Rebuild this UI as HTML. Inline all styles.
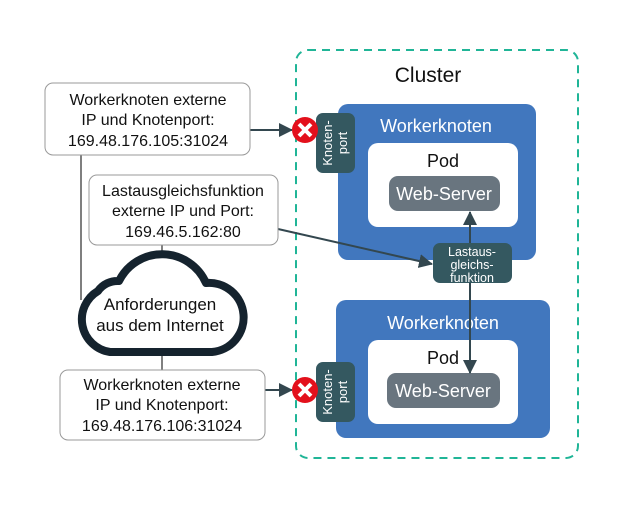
<!DOCTYPE html>
<html><head><style>
body{margin:0;background:#fff;width:640px;height:500px;overflow:hidden}
text{font-family:"Liberation Sans",sans-serif}
</style></head><body>
<svg width="640" height="500" viewBox="0 0 640 500">
<defs>
<marker id="b" markerWidth="14" markerHeight="14" refX="13" refY="7" orient="auto" markerUnits="userSpaceOnUse"><path d="M0,0 L14,7 L0,14z" fill="#33474f"/></marker></defs>
<rect x="296" y="50" width="282" height="408" rx="12" fill="none" stroke="#20b597" stroke-width="2" stroke-dasharray="8,6"/>
<text x="428" y="82" font-size="21" text-anchor="middle" fill="#111">Cluster</text>
<!-- worker 1 -->
<rect x="338" y="104" width="198" height="156" rx="10" fill="#4177be"/>
<text x="436" y="132" font-size="18" text-anchor="middle" fill="#fff">Workerknoten</text>
<rect x="368" y="143" width="150" height="84" rx="10" fill="#fff"/>
<text x="443" y="167" font-size="18" text-anchor="middle" fill="#111">Pod</text>
<rect x="389" y="176" width="111" height="35" rx="9" fill="#69757f"/>
<text x="444" y="200" font-size="18" text-anchor="middle" fill="#fff">Web-Server</text>
<!-- worker 2 -->
<rect x="336" y="300" width="214" height="138" rx="10" fill="#4177be"/>
<text x="443" y="329" font-size="18" text-anchor="middle" fill="#fff">Workerknoten</text>
<rect x="368" y="340" width="150" height="84" rx="10" fill="#fff"/>
<text x="443" y="364" font-size="18" text-anchor="middle" fill="#111">Pod</text>
<rect x="387" y="373" width="113" height="35" rx="9" fill="#69757f"/>
<text x="443" y="397" font-size="18" text-anchor="middle" fill="#fff">Web-Server</text>
<!-- knotenports -->
<rect x="316" y="113" width="39" height="60" rx="7" fill="#345860"/>
<text transform="translate(332,143) rotate(-90)" font-size="13" text-anchor="middle" fill="#fff">Knoten-</text>
<text transform="translate(347,143) rotate(-90)" font-size="13" text-anchor="middle" fill="#fff">port</text>
<rect x="316" y="362" width="39" height="60" rx="7" fill="#345860"/>
<text transform="translate(332,392) rotate(-90)" font-size="13" text-anchor="middle" fill="#fff">Knoten-</text>
<text transform="translate(347,392) rotate(-90)" font-size="13" text-anchor="middle" fill="#fff">port</text>
<!-- arrows -->
<line x1="470" y1="243" x2="470" y2="212" stroke="#33474f" stroke-width="2" marker-end="url(#b)"/>
<line x1="470" y1="283" x2="470" y2="373" stroke="#33474f" stroke-width="2" marker-end="url(#b)"/>
<line x1="278" y1="229" x2="432" y2="264" stroke="#33474f" stroke-width="2" marker-end="url(#b)"/>
<rect x="433" y="243" width="79" height="40" rx="7" fill="#345860"/>
<text x="472" y="256" font-size="12.5" text-anchor="middle" fill="#fff">Lastaus-</text>
<text x="472" y="269" font-size="12.5" text-anchor="middle" fill="#fff">gleichs-</text>
<text x="472" y="282" font-size="12.5" text-anchor="middle" fill="#fff">funktion</text>
<line x1="250" y1="130" x2="292" y2="130" stroke="#33474f" stroke-width="2" marker-end="url(#b)"/>
<line x1="265" y1="390" x2="292" y2="390" stroke="#33474f" stroke-width="2" marker-end="url(#b)"/>
<!-- X icons -->
<g transform="translate(305,130)"><circle r="13" fill="#e3101c"/><path d="M-6,-6L6,6M6,-6L-6,6" stroke="#fff" stroke-width="4"/></g>
<g transform="translate(305,390)"><circle r="13" fill="#e3101c"/><path d="M-6,-6L6,6M6,-6L-6,6" stroke="#fff" stroke-width="4"/></g>
<!-- left lines -->
<line x1="81" y1="155" x2="81" y2="300" stroke="#555" stroke-width="1.5"/>
<line x1="162" y1="245" x2="162" y2="265" stroke="#555" stroke-width="1.5"/>
<line x1="162" y1="350" x2="162" y2="372" stroke="#555" stroke-width="1.5"/>
<!-- boxes -->
<rect x="45" y="83" width="205" height="72" rx="8" fill="#fff" stroke="#999"/>
<text x="148" y="105" font-size="16" text-anchor="middle" fill="#111">Workerknoten externe</text>
<text x="148" y="125" font-size="16" text-anchor="middle" fill="#111">IP und Knotenport:</text>
<text x="148" y="146" font-size="16" text-anchor="middle" fill="#111">169.48.176.105:31024</text>
<rect x="89" y="175" width="189" height="70" rx="8" fill="#fff" stroke="#999"/>
<text x="183" y="196" font-size="16" text-anchor="middle" fill="#111">Lastausgleichsfunktion</text>
<text x="183" y="216" font-size="16" text-anchor="middle" fill="#111">externe IP und Port:</text>
<text x="183" y="237" font-size="16" text-anchor="middle" fill="#111">169.46.5.162:80</text>
<rect x="60" y="370" width="205" height="70" rx="8" fill="#fff" stroke="#999"/>
<text x="162" y="390" font-size="16" text-anchor="middle" fill="#111">Workerknoten externe</text>
<text x="162" y="410" font-size="16" text-anchor="middle" fill="#111">IP und Knotenport:</text>
<text x="162" y="431" font-size="16" text-anchor="middle" fill="#111">169.48.176.106:31024</text>
<!-- cloud -->
<path d="M110,352 A33,33 0 0 1 98,291 A24,24 0 0 1 119,281 A48,48 0 0 1 206,283 A34,34 0 0 1 212,352 Z" fill="#fff" stroke="#15232e" stroke-width="8" stroke-linejoin="round"/>
<text x="160" y="310" font-size="17" text-anchor="middle" fill="#111">Anforderungen</text>
<text x="160" y="331" font-size="17" text-anchor="middle" fill="#111">aus dem Internet</text>
</svg>
</body></html>
